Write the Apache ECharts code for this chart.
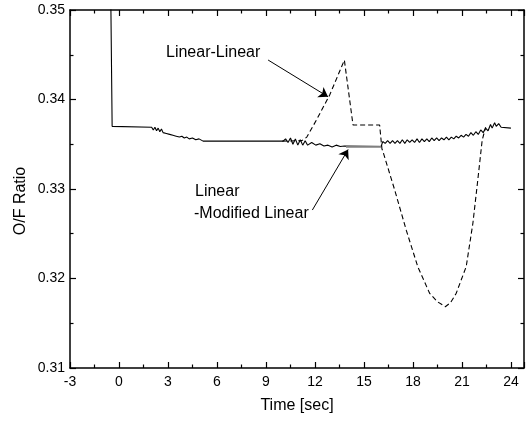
<!DOCTYPE html>
<html>
<head>
<meta charset="utf-8">
<script src="https://cdn.jsdelivr.net/npm/echarts@6/dist/echarts.min.js"></script>
<style>
html,body{margin:0;padding:0;background:#fff;}
#chart{width:528px;height:423px;}
</style>
</head>
<body>
<div id="chart"></div>
<script>
// ---- data ----
const xTicks = { min: -3, max: 24.8, interval: 3 };
const yTicks = { min: 0.31, max: 0.35, interval: 0.01 };

// Linear - Modified Linear (solid)
const solidLine = [
  [-0.5,0.3510],[-0.42,0.3370],[-0.38,0.3372],[-0.33,0.3369],[2.0,0.3369],
  [2.1,0.3366],[2.2,0.3369],[2.3,0.3365],[2.4,0.3368],[2.5,0.3364],[2.6,0.3367],
  [2.7,0.3363],[2.8,0.3365],[2.9,0.3362],[3.0,0.3364],[3.1,0.3361],[3.2,0.3363],
  [3.3,0.3360],[3.4,0.3362],[3.5,0.3359],[3.6,0.3361],[3.7,0.3358],[3.85,0.3359],
  [4.0,0.3357],[4.15,0.3358],[4.3,0.3356],[4.5,0.3357],[4.7,0.3355],[4.9,0.3356],
  [5.15,0.33535],[10.05,0.33535],
  [10.2,0.3356],[10.35,0.3352],[10.5,0.3357],[10.65,0.3350],[10.8,0.3356],[10.95,0.3349],
  [11.1,0.3355],[11.25,0.3349],[11.4,0.3354],[11.55,0.3349],
  [11.8,0.3352],[12.05,0.3349],[12.3,0.33505],[12.55,0.3348],[12.8,0.3349],[13.05,0.3347],
  [13.3,0.3349],[13.55,0.33475],[13.8,0.3348],[16.05,0.33475],
  [16.15,0.3353],[16.3,0.3351],[16.45,0.3354],[16.6,0.3351],[16.75,0.3354],[16.9,0.3351],
  [17.05,0.3354],[17.2,0.3351],[17.35,0.3355],[17.5,0.3351],[17.65,0.3355],[17.8,0.3352],
  [17.95,0.3355],[18.1,0.3352],[18.25,0.3356],[18.4,0.3352],[18.55,0.3356],[18.7,0.3353],
  [18.85,0.3356],[19.0,0.3353],[19.15,0.3357],[19.3,0.3354],[19.45,0.3357],[19.6,0.3354],
  [19.75,0.3357],[19.9,0.3355],[20.05,0.3358],[20.2,0.3355],[20.35,0.3358],[20.5,0.3356],
  [20.65,0.3359],[20.8,0.3357],[20.95,0.3360],[21.1,0.3358],[21.25,0.3361],[21.4,0.3359],
  [21.55,0.3363],[21.7,0.3360],[21.85,0.3364],[22.0,0.3361],[22.15,0.3366],[22.3,0.3363],
  [22.45,0.3368],[22.6,0.3365],[22.75,0.3372],[22.85,0.3368],[23.0,0.3374],[23.1,0.3370],
  [23.25,0.3373],[23.4,0.3369],[23.5,0.3369],[24.0,0.3368]
];

// Linear - Linear (dashed), where it departs from the solid curve
const dashedLine = [
  [10.0,0.33535],[11.2,0.3354],[11.5,0.3358],[12.09,0.33771],[12.9,0.3405],[13.8,0.3444],
  [14.33,0.33715],[15.96,0.33715],[16.1,0.3345],[16.16,0.3342],[16.88,0.3299],
  [17.59,0.3254],[18.3,0.3213],[19.02,0.31835],[19.5,0.3174],[19.98,0.31685],
  [20.3,0.3173],[20.65,0.31835],[21.26,0.32132],[21.67,0.32617],[21.97,0.331],
  [22.24,0.33547],[22.45,0.3369]
];

// grey overlay segment on the solid curve
const greySegment = [[13.9,0.33473],[16.05,0.33473]];

// annotation arrows (data coordinates): [start, tip]
const arrowLinLin = [[9.13,0.34441],[12.8,0.34031]];
const arrowLinMod = [[11.84,0.32765],[14.03,0.33441]];

// ---- chart ----
const FONT = 'Liberation Sans, Arial, sans-serif';
const chart = echarts.init(document.getElementById('chart'), null, {renderer:'canvas'});

function axisCommon(showLabel){
  return {
    axisLine:{show:true,onZero:false,lineStyle:{color:'#000',width:1.5}},
    axisTick:{show:true,inside:true,length:6,lineStyle:{color:'#000',width:1.2}},
    minorTick:{show:true,splitNumber:2,length:3.5,lineStyle:{color:'#000',width:1.2}},
    splitLine:{show:false},
    minorSplitLine:{show:false},
    axisLabel:{show:showLabel,color:'#000',fontSize:14,fontFamily:FONT}
  };
}

const option = {
  backgroundColor:'#fff',
  animation:false,
  grid:{left:70,right:4,top:10,bottom:55,containLabel:false},
  xAxis:[
    Object.assign({type:'value',position:'bottom',min:xTicks.min,max:xTicks.max,interval:xTicks.interval,
      name:'Time [sec]',nameLocation:'middle',nameGap:30,
      nameTextStyle:{color:'#000',fontSize:16,fontFamily:FONT}}, axisCommon(true),
      {axisLabel:{show:true,color:'#000',fontSize:14,fontFamily:FONT,margin:7,
        showMaxLabel:false}}),
    Object.assign({type:'value',position:'top',min:xTicks.min,max:xTicks.max,interval:xTicks.interval}, axisCommon(false))
  ],
  yAxis:[
    Object.assign({type:'value',position:'left',min:yTicks.min,max:yTicks.max,interval:yTicks.interval}, axisCommon(true),
      {axisLabel:{show:true,color:'#000',fontSize:14,fontFamily:FONT,margin:5,
        formatter:function(v){return v.toFixed(2);}}}),
    Object.assign({type:'value',position:'right',min:yTicks.min,max:yTicks.max,interval:yTicks.interval}, axisCommon(false))
  ],
  series:[
    {type:'line',data:dashedLine,symbol:'none',silent:true,
     lineStyle:{color:'#000',width:1.1,type:[5,3]}},
    {type:'line',data:solidLine,symbol:'none',silent:true,
     lineStyle:{color:'#000',width:1.1},
     markLine:{silent:true,symbol:['none','arrow'],symbolSize:9,
       label:{show:false},
       emphasis:{disabled:true},
       lineStyle:{color:'#000',width:1,type:'solid'},
       data:[
         [{coord:arrowLinLin[0]},{coord:arrowLinLin[1]}],
         [{coord:arrowLinMod[0]},{coord:arrowLinMod[1]}]
       ]}},
    {type:'line',data:greySegment,symbol:'none',silent:true,
     lineStyle:{color:'#808080',width:2}}
  ],
  graphic:[
    {type:'text',left:166,top:45,style:{text:'Linear-Linear',fill:'#000',font:'16px '+FONT}},
    {type:'text',left:195,top:184,style:{text:'Linear',fill:'#000',font:'16px '+FONT}},
    {type:'text',left:194,top:206,style:{text:'-Modified Linear',fill:'#000',font:'16px '+FONT}},
    {type:'text',x:21,y:201,rotation:Math.PI/2,
     style:{text:'O/F Ratio',fill:'#000',font:'16px '+FONT,align:'center',verticalAlign:'middle'}}
  ]
};
chart.setOption(option);
</script>
</body>
</html>
